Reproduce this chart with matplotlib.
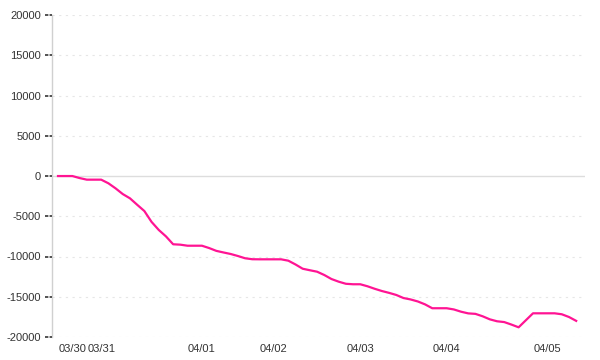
#!/usr/bin/env python3
"""Cumulative balance line chart, 03/30 - 04/05."""

import matplotlib

matplotlib.use("Agg")

import matplotlib.pyplot as plt
import numpy as np

# series values, one point per sample (equally spaced)
balance = [
    0, 0, 0, -250, -450, -450, -450, -900, -1530, -2240,
    -2770, -3570, -4350, -5700, -6700, -7500, -8480, -8530, -8660, -8660,
    -8660, -8950, -9300, -9500, -9690, -9940, -10220, -10340, -10350, -10350,
    -10350, -10350, -10520, -10990, -11520, -11710, -11890, -12300, -12800, -13130,
    -13390, -13450, -13450, -13700, -14010, -14290, -14520, -14780, -15160, -15340,
    -15590, -15950, -16430, -16430, -16430, -16580, -16860, -17070, -17130, -17430,
    -17810, -18050, -18150, -18460, -18800, -17930, -17060, -17060, -17060, -17060,
    -17180, -17520, -18000,
]
tick_index = [2, 6, 20, 30, 42, 54, 68]
tick_labels = ["03/30", "03/31", "04/01", "04/02", "04/03", "04/04", "04/05"]
y_ticks = [-20000, -15000, -10000, -5000, 0, 5000, 10000, 15000, 20000]


def main() -> None:
    plt.rcParams["font.family"] = ["Liberation Sans", "DejaVu Sans"]
    fig = plt.figure(figsize=(6, 3.6), dpi=100)
    ax = fig.add_axes([0.0867, 0.064, 0.888, 0.894])

    x = np.arange(len(balance))
    ax.plot(x, balance, color="#ff1493", linewidth=1.6, zorder=3)

    ax.set_xlim(-0.83, 73.2)
    ax.set_ylim(-20000, 20000)
    ax.set_yticks(y_ticks)
    ax.set_yticklabels([str(v) for v in y_ticks])
    ax.set_xticks(tick_index)
    ax.set_xticklabels(tick_labels)

    tick_len = 7 / (0.888 * 600)
    for v in y_ticks:
        if v == 0:
            ax.axhline(v, color="#dddddd", linewidth=1.0, zorder=1)
        else:
            ax.axhline(v, color="#e6e6e6", linewidth=0.8, linestyle=(0, (2, 4)), zorder=1)
        # dashed tick marks left of the axis
        ax.plot([-tick_len, 0], [v, v], transform=ax.get_yaxis_transform(),
                color="#222222", linewidth=1.1, linestyle=(0, (2.2, 0.8)),
                clip_on=False, zorder=4)

    for side in ("top", "right", "bottom"):
        ax.spines[side].set_visible(False)
    ax.spines["left"].set_color("#d0d0d0")
    ax.spines["left"].set_linewidth(1.0)

    ax.tick_params(axis="y", length=7, width=0, labelsize=8,
                   labelcolor="#333333", pad=1)
    ax.tick_params(axis="x", length=0, labelsize=8, labelcolor="#333333", pad=5)

    fig.savefig("out.png", dpi=100)
    plt.close(fig)


if __name__ == "__main__":
    main()
